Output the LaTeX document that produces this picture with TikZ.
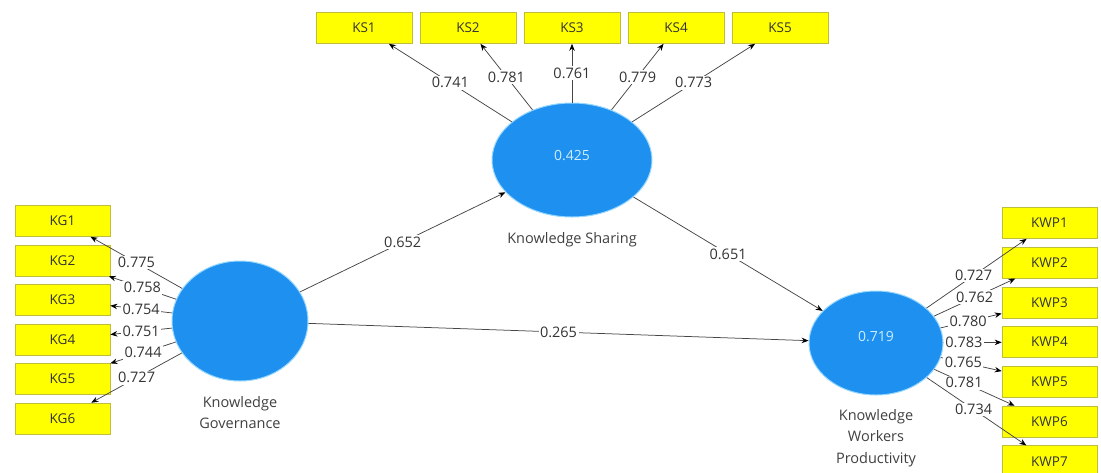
\documentclass[tikz,border=0pt]{standalone}
\usepackage{fontspec}
\setmainfont{Open Sans}
\usetikzlibrary{arrows.meta, shapes.geometric}

\definecolor{lvblue}{RGB}{30,144,240}
\definecolor{lvedge}{RGB}{150,215,255}
\definecolor{lvtext}{RGB}{205,238,255}
\definecolor{mvfill}{RGB}{255,255,0}
\definecolor{mvedge}{RGB}{190,190,60}
\definecolor{linkgray}{RGB}{70,70,70}

\tikzset{
  latent/.style={ellipse, fill=lvblue, draw=lvedge, line width=1pt, inner sep=0pt},
  lvvalue/.style={text=lvtext, font=\fontsize{14}{16}\selectfont},
  lvname/.style={align=center, text=black!75, font=\fontsize{14.5}{21.5}\selectfont},
  indicator/.style={rectangle, fill=mvfill, draw=mvedge, line width=0.6pt,
    minimum width=95pt, minimum height=31pt, inner sep=0pt,
    text=black!80, font=\fontsize{13.5}{15}\selectfont},
  link/.style={draw=linkgray, line width=0.75pt, -{Stealth[length=7pt,width=5.5pt,color=black]}},
  coef/.style={fill=white, inner sep=1.5pt, text=black!80, font=\fontsize{14.5}{16}\selectfont}
}

\begin{document}
\begin{tikzpicture}[x=1pt, y=-1pt]
  \useasboundingbox (0,0) rectangle (1101,472);
  % latent variables
  \node[latent, minimum width=136pt, minimum height=120pt] (KG) at (240,321) {};
  \node[latent, minimum width=160pt, minimum height=114pt] (KS) at (572,160) {};
  \node[latent, minimum width=134pt, minimum height=104pt] (KWP) at (876,343) {};
  \node[lvvalue] at ([yshift=4pt]KS.center) {0.425};
  \node[lvvalue] at ([yshift=6pt]KWP.center) {0.719};
  \node[lvname] at (240,412.5) {Knowledge\\Governance};
  \node[lvname] at (572,240) {Knowledge Sharing};
  \node[lvname] at (876,438) {Knowledge\\Workers\\Productivity};
  % indicators
  \foreach \i in {1,...,6}
    \node[indicator] (KG\i) at (62.5,{221+39.5*(\i-1)}) {KG\i};
  \foreach \i in {1,...,5}
    \node[indicator, minimum width=96pt] (KS\i) at ({364+104*(\i-1)},28) {KS\i};
  \foreach \i in {1,...,7}
    \node[indicator] (KWP\i) at (1049.5,{223+39.7*(\i-1)}) {KWP\i};
  % outer loadings
  \foreach \i/\v in {1/0.775, 2/0.758, 3/0.754, 4/0.751, 5/0.744, 6/0.727}
    \draw[link] (KG) -- node[coef] {\v} (KG\i);
  \foreach \i/\v in {1/0.741, 2/0.781, 3/0.761, 4/0.779, 5/0.773}
    \draw[link] (KS) -- node[coef] {\v} (KS\i);
  \foreach \i/\v/\p in {1/0.727/0.47, 2/0.762/0.5, 3/0.780/0.45, 4/0.783/0.35,
                        5/0.765/0.37, 6/0.781/0.37, 7/0.734/0.47}
    \draw[link] (KWP) -- node[coef, pos=\p] {\v} (KWP\i);
  % path coefficients
  \draw[link] (KG) -- node[coef] {0.652} (KS);
  \draw[link] (KG) -- node[coef] {0.265} (KWP);
  \draw[link] (KS) -- node[coef] {0.651} (KWP);
\end{tikzpicture}
\end{document}
